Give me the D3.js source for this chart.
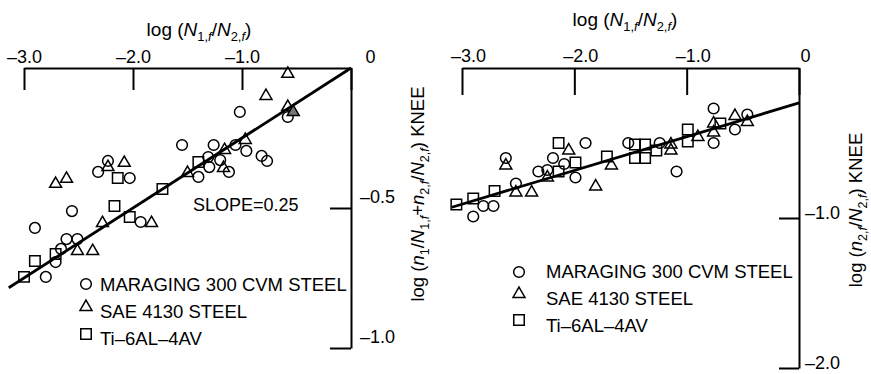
<!DOCTYPE html>
<html><head><meta charset="utf-8">
<script src="https://cdn.jsdelivr.net/npm/d3@7"></script>
<style>
body{margin:0;background:#fff;}
svg{display:block;font-family:"Liberation Sans",Arial,Helvetica,sans-serif;}
</style></head>
<body>
<svg id="chart" width="871" height="374"></svg>
<script>
// ---------- DATA ----------
const xTicks = [-3, -2, -1, 0];
const leftYTicks = [-0.5, -1.0];
const rightYTicks = [-1.0, -2.0];
const legendLabels = ["MARAGING 300 CVM STEEL", "SAE 4130 STEEL", "Ti\u20136AL\u20134AV"];

// Left panel: log(N1f/N2f) vs log(n1/N1f + n2f/N2f) KNEE
const leftCircles = [[-2.23,-0.332],[-2.32,-0.371],[-2.03,-0.393],[-2.56,-0.511],[-2.90,-0.571],[-2.61,-0.611],[-2.51,-0.611],[-2.66,-0.646],[-2.71,-0.693],[-2.80,-0.746],[-1.93,-0.550],[-1.02,-0.157],[-0.58,-0.175],[-1.55,-0.275],[-1.26,-0.275],[-1.06,-0.275],[-0.96,-0.296],[-1.31,-0.318],[-1.20,-0.329],[-1.30,-0.354],[-1.40,-0.389],[-1.12,-0.371],[-0.82,-0.314],[-0.77,-0.332]];
const leftTriangles = [[-2.23,-0.354],[-2.08,-0.339],[-2.71,-0.414],[-2.61,-0.396],[-2.28,-0.554],[-1.83,-0.554],[-2.51,-0.654],[-2.37,-0.654],[-0.58,-0.021],[-0.78,-0.100],[-0.58,-0.139],[-0.97,-0.257],[-1.16,-0.293],[-1.17,-0.357],[-1.50,-0.375]];
const leftTrianglesFilled = [[-0.53,-0.157]];
const leftSquares = [[-2.14,-0.393],[-1.73,-0.432],[-2.17,-0.493],[-2.03,-0.532],[-2.90,-0.689],[-2.71,-0.664],[-3.00,-0.746],[-1.40,-0.336]];
const leftSlope = 0.25, leftIntercept = 0, leftLineX = [-3.14, 0];

// Right panel: log(N1f/N2f) vs log(n2f/N2f) KNEE
const rightCircles = [[-1.90,-0.50],[-2.61,-0.60],[-2.19,-0.60],[-2.09,-0.64],[-2.32,-0.69],[-2.24,-0.68],[-1.99,-0.73],[-2.52,-0.77],[-2.81,-0.92],[-2.72,-0.92],[-2.90,-0.99],[-1.52,-0.50],[-1.24,-0.50],[-1.09,-0.69],[-0.76,-0.27],[-0.76,-0.50],[-0.57,-0.41],[-0.46,-0.31]];
const rightTriangles = [[-2.05,-0.55],[-2.61,-0.65],[-2.24,-0.73],[-2.52,-0.83],[-2.38,-0.83],[-1.81,-0.79],[-1.67,-0.65],[-1.14,-0.51],[-1.14,-0.55],[-0.90,-0.46],[-0.76,-0.37],[-0.76,-0.43],[-0.57,-0.32],[-0.46,-0.36]];
const rightSquares = [[-2.14,-0.50],[-1.99,-0.63],[-2.14,-0.69],[-1.71,-0.59],[-2.71,-0.82],[-2.90,-0.87],[-3.05,-0.91],[-1.46,-0.51],[-1.46,-0.60],[-1.37,-0.51],[-1.37,-0.60],[-1.27,-0.55],[-0.99,-0.41],[-0.99,-0.49],[-0.70,-0.37]];
const rightSlope = 0.225, rightIntercept = -0.233, rightLineX = [-3.09, 0];

// ---------- DRAWING ----------
const svg = d3.select("#chart");
const fmt = d => d === 0 ? "0" : "\u2013" + Math.abs(d).toFixed(1);
const TICK_FS = 18, TITLE_FS = 19, YLAB_FS = 18.5;

const symCircle = d3.symbol().type(d3.symbolCircle).size(90);
const symTri = d3.symbol().type(d3.symbolTriangle).size(62);
const symSq = d3.symbol().type(d3.symbolSquare).size(110);

function richText(sel, segs, size) {
  segs.forEach(s => {
    const t = sel.append("tspan").text(s.t);
    if (s.i) t.attr("font-style", "italic");
    if (s.sub) t.attr("font-size", size * 0.68).attr("dy", s.dy || 0);
    else if (s.dy) t.attr("dy", s.dy);
  });
}
const xTitleSegs = [
  {t:"log ("},{t:"N",i:1},{t:"1,",sub:1,dy:5},{t:"f",i:1,sub:1},{t:"/",dy:-5},
  {t:"N",i:1},{t:"2,",sub:1,dy:5},{t:"f",i:1,sub:1},{t:")",dy:-5}
];

function panel(cfg) {
  const x = d3.scaleLinear().domain([-3, 0]).range(cfg.xr);
  const y = d3.scaleLinear().domain([0, cfg.ymin]).range(cfg.yr);
  const g = svg.append("g");

  // top axis
  const ax = g.append("g").attr("transform", `translate(0,${cfg.yr[0]})`)
    .call(d3.axisTop(x).tickValues(xTicks).tickFormat(fmt)
      .tickSizeInner(-cfg.topTick).tickSizeOuter(0).tickPadding(cfg.topPad));
  ax.selectAll("text").attr("font-size", TICK_FS).attr("fill", "#000").attr("font-family", null)
    .attr("dx", d => d === 0 ? cfg.zeroDx : cfg.topDx);
  // right axis
  const ay = g.append("g").attr("transform", `translate(${cfg.xr[1]},0)`)
    .call(d3.axisRight(y).tickValues(cfg.yTicks).tickFormat(fmt)
      .tickSizeInner(-cfg.rightTick).tickSizeOuter(0).tickPadding(cfg.rightPad));
  ay.selectAll("text").attr("font-size", TICK_FS).attr("fill", "#000").attr("font-family", null)
    .attr("dy", cfg.rightDy);
  g.selectAll(".domain, .tick line").attr("stroke", "#000").attr("stroke-width", 2);

  // titles
  const tt = g.append("text").attr("x", cfg.titleX).attr("y", cfg.titleY)
    .attr("text-anchor", "middle").attr("font-size", TITLE_FS);
  richText(tt, xTitleSegs, TITLE_FS);
  const yt = g.append("text").attr("transform", `translate(${cfg.ylabX},${cfg.ylabY}) rotate(-90)`)
    .attr("text-anchor", "middle").attr("font-size", YLAB_FS).attr("dy", "0.35em");
  richText(yt, cfg.ySegs, YLAB_FS);

  // fit line
  g.append("line")
    .attr("x1", x(cfg.lineX[0])).attr("y1", y(cfg.slope * cfg.lineX[0] + cfg.icpt))
    .attr("x2", x(cfg.lineX[1])).attr("y2", y(cfg.slope * cfg.lineX[1] + cfg.icpt))
    .attr("stroke", "#000").attr("stroke-width", 2.8);

  // markers
  const mk = (data, sym, fill) => g.append("g").selectAll("path").data(data).join("path")
    .attr("d", sym).attr("transform", d => `translate(${x(d[0])},${y(d[1])})`)
    .attr("fill", fill || "none").attr("stroke", "#000").attr("stroke-width", 1.5);
  mk(cfg.circles, symCircle);
  mk(cfg.tris, symTri);
  if (cfg.trisFilled) mk(cfg.trisFilled, symTri, "#777");
  mk(cfg.squares, symSq);

  // legend
  const syms = [symCircle, symTri, symSq];
  legendLabels.forEach((lab, i) => {
    const ly = cfg.legY + i * 27;
    g.append("path").attr("d", syms[i]()).attr("transform", `translate(${cfg.legMX},${ly - cfg.legMOff[i]})`)
      .attr("fill", "none").attr("stroke", "#000").attr("stroke-width", 1.5);
    g.append("text").attr("x", cfg.legTX).attr("y", ly).attr("font-size", 18.5).text(lab);
  });
  return {x, y, g};
}

const L = panel({
  xr: [24, 351], yr: [68, 348], ymin: -1, yTicks: leftYTicks,
  topTick: 22, topPad: 5, topDx: 0, zeroDx: 19, rightTick: 21, rightPad: 9, rightDy: "-0.3em",
  titleX: 199, titleY: 36, ylabX: 418, ylabY: 194,
  ySegs: [{t:"log ("},{t:"n",i:1},{t:"1",sub:1,dy:5},{t:"/",dy:-5},{t:"N",i:1},{t:"1,",sub:1,dy:5},{t:"f",i:1,sub:1},
          {t:"+",dy:-5},{t:"n",i:1},{t:"2,",sub:1,dy:5},{t:"f",i:1,sub:1},{t:"/",dy:-5},{t:"N",i:1},{t:"2,",sub:1,dy:5},{t:"f",i:1,sub:1},{t:") KNEE",dy:-5}],
  lineX: leftLineX, slope: leftSlope, icpt: leftIntercept,
  circles: leftCircles, tris: leftTriangles, trisFilled: leftTrianglesFilled, squares: leftSquares,
  legY: 291, legMX: 86, legTX: 100, legMOff: [7, 11, 11]
});
L.g.append("text").attr("x", 193).attr("y", 211).attr("font-size", 18).text("SLOPE=0.25");

panel({
  xr: [462, 799], yr: [68, 368], ymin: -2, yTicks: rightYTicks,
  topTick: 27, topPad: 6, topDx: 6, zeroDx: 6, rightTick: 20, rightPad: 6, rightDy: "0.02em",
  titleX: 625, titleY: 26, ylabX: 856, ylabY: 210,
  ySegs: [{t:"log ("},{t:"n",i:1},{t:"2,",sub:1,dy:5},{t:"f",i:1,sub:1},{t:"/",dy:-5},{t:"N",i:1},{t:"2,",sub:1,dy:5},{t:"f",i:1,sub:1},{t:") KNEE",dy:-5}],
  lineX: rightLineX, slope: rightSlope, icpt: rightIntercept,
  circles: rightCircles, tris: rightTriangles, squares: rightSquares,
  legY: 278, legMX: 519, legTX: 546, legMOff: [6, 11, 12]
});
</script>
</body></html>
